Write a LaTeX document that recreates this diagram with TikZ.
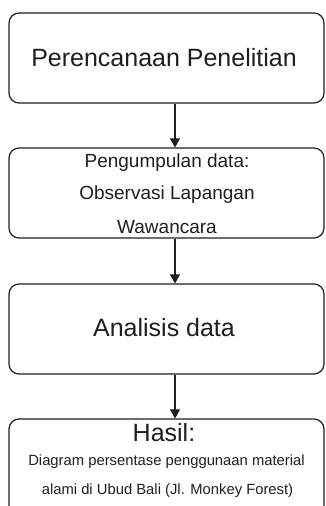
\documentclass[tikz,border=0pt]{standalone}
\usepackage{fontspec}
\setmainfont{Liberation Sans}
\usetikzlibrary{arrows.meta}
\definecolor{ink}{HTML}{1E1E1E}
\tikzset{
  stepbox/.style={draw=ink, line width=1.2pt, rounded corners=10pt,
    minimum width=315pt, inner sep=0pt, text=ink},
  lbl/.style={text=ink, inner sep=0pt, anchor=center},
  arr/.style={draw=ink, line width=1.1pt, -{Triangle[length=9pt,width=10pt]}}
}
\begin{document}
\begin{tikzpicture}[x=1pt,y=-1pt]
  \useasboundingbox (0,0) rectangle (325,506);
  \clip (0,0) rectangle (325,506);
  % boxes
  \node[stepbox, minimum height=90pt] (b1) at (166.5,58) {};
  \node[stepbox, minimum height=90pt] (b2) at (166.5,193) {};
  \node[stepbox, minimum height=90pt] (b3) at (166.5,329) {};
  \node[stepbox, minimum height=100pt] (b4) at (166.5,469) {};
  % texts
  \node[lbl, font=\fontsize{25}{28}\selectfont] (t1) at (164,58) {Perencanaan Penelitian};
  \node[lbl, font=\fontsize{19}{22}\selectfont] (t2a) at (167,163) {Pengumpulan data:};
  \node[lbl, font=\fontsize{19}{22}\selectfont] (t2b) at (167,195) {Observasi Lapangan};
  \node[lbl, font=\fontsize{19}{22}\selectfont] (t2c) at (167,227) {Wawancara};
  \node[lbl, font=\fontsize{25}{28}\selectfont] (t3) at (164,328) {Analisis data};
  \node[lbl, font=\fontsize{25}{28}\selectfont] (t4a) at (164,433) {Hasil:};
  \node[lbl, font=\fontsize{14.8}{17}\selectfont] (t4b) at (166.5,462) {Diagram persentase penggunaan material};
  \node[lbl, font=\fontsize{14.8}{17}\selectfont] (t4c) at (167.5,491) {alami di Ubud Bali (Jl. Monkey Forest)};
  % connectors
  \coordinate (ax) at (175,0);
  \draw[arr] (b1.south -| ax) -- (b2.north -| ax);
  \draw[arr] (b2.south -| ax) -- (b3.north -| ax);
  \draw[arr] (b3.south -| ax) -- (b4.north -| ax);
\end{tikzpicture}
\end{document}
